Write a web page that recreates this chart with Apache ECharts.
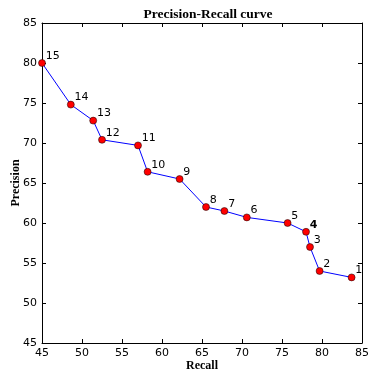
<!DOCTYPE html>
<html>
<head>
<meta charset="utf-8">
<script src="https://cdn.jsdelivr.net/npm/echarts@6/dist/echarts.min.js"></script>
<style>
  html, body { margin: 0; padding: 0; background: #fff; }
  #chart { width: 368px; height: 372px; }
</style>
</head>
<body>
<div id="chart"></div>
<script>
// point ids, from the start of the curve to the end
const pointIds = ['15', '14', '13', '12', '11', '10', '9', '8', '7', '6', '5', '4', '3', '2', '1'];
const recall = [45.0, 48.6, 51.4, 52.5, 57.0, 58.2, 62.2, 65.5, 67.8, 70.6, 75.7, 78.0, 78.5, 79.7, 83.7];
const precision = [80.0, 74.8, 72.8, 70.4, 69.7, 66.4, 65.5, 62.0, 61.5, 60.7, 60.0, 58.9, 57.0, 54.0, 53.2];
const boldIds = ['4'];

const chart = echarts.init(document.getElementById('chart'));

const tickFont = { fontFamily: 'DejaVu Sans', fontSize: 11, color: '#000' };
const nameFont = { fontFamily: 'Liberation Serif', fontWeight: 'bold', fontSize: 12, color: '#000' };

function axisBase(pos, showLabel) {
  return {
    type: 'value',
    position: pos,
    min: 45,
    max: 85,
    interval: 5,
    axisLine: { show: true, onZero: false, lineStyle: { color: '#000', width: 1 } },
    axisTick: { show: true, inside: true, length: 4, lineStyle: { color: '#000' } },
    axisLabel: Object.assign({ show: showLabel, margin: 5 }, tickFont),
    splitLine: { show: false }
  };
}

const data = recall.map((x, i) => ({
  value: [x, precision[i]],
  label: { fontWeight: boldIds.includes(pointIds[i]) ? 'bold' : 'normal' }
}));

chart.setOption({
  animation: false,
  title: {
    text: 'Precision-Recall curve',
    left: 203,
    textAlign: 'center',
    top: 3,
    textStyle: Object.assign({}, nameFont, { fontSize: 13.5 })
  },
  grid: { left: 42, right: 6, top: 23, bottom: 29, containLabel: false, outerBoundsMode: 'none' },
  xAxis: [
    Object.assign(axisBase('bottom', true), {
      name: 'Recall', nameLocation: 'middle', nameGap: 17, nameMoveOverlap: false, nameTextStyle: nameFont
    }),
    axisBase('top', false)
  ],
  yAxis: [
    Object.assign(axisBase('left', true), {
      name: 'Precision', nameLocation: 'middle', nameGap: 20, nameMoveOverlap: false, nameTextStyle: nameFont
    }),
    axisBase('right', false)
  ],
  series: [{
    type: 'line',
    data: data,
    symbol: 'circle',
    symbolSize: 7,
    lineStyle: { color: '#0000ff', width: 1 },
    itemStyle: { color: '#ff0000', borderColor: '#000', borderWidth: 0.5 },
    label: {
      show: true,
      position: 'right',
      distance: 1,
      offset: [-1, -7],
      formatter: p => pointIds[p.dataIndex],
      fontFamily: 'DejaVu Sans',
      fontSize: 11,
      color: '#000'
    },
    z: 3
  }]
});
</script>
</body>
</html>
